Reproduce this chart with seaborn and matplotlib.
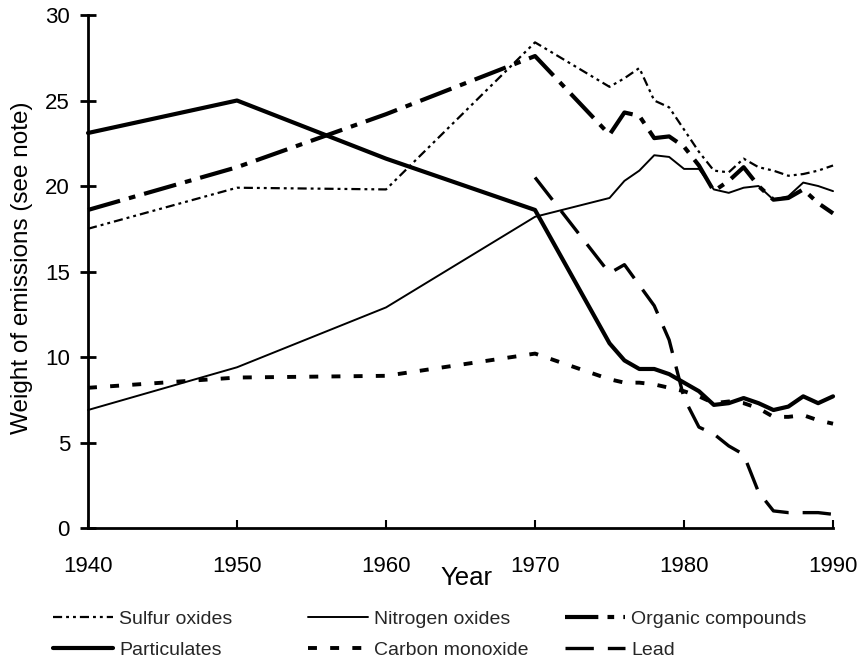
import matplotlib
matplotlib.use("Agg")
import matplotlib.pyplot as plt
import seaborn as sns

# ── Data ──────────────────────────────────────────────────────────────────────
YEARS = [1940, 1950, 1960, 1970, 1975, 1976, 1977, 1978, 1979, 1980,
         1981, 1982, 1983, 1984, 1985, 1986, 1987, 1988, 1989, 1990]
LEAD_YEARS = [1970, 1975, 1976, 1977, 1978, 1979, 1980, 1981, 1982,
              1983, 1984, 1985, 1986, 1987, 1988, 1989, 1990]

sulfur = [17.5, 19.9, 19.8, 28.4, 25.8, 26.3, 26.9, 25.0, 24.6, 23.3,
          22.0, 20.9, 20.8, 21.6, 21.1, 20.9, 20.6, 20.7, 20.9, 21.2]
particulates = [23.1, 25.0, 21.6, 18.6, 10.8, 9.8, 9.3, 9.3, 9.0, 8.5,
                8.0, 7.2, 7.3, 7.6, 7.3, 6.9, 7.1, 7.7, 7.3, 7.7]
nitrogen = [6.9, 9.4, 12.9, 18.2, 19.3, 20.3, 20.9, 21.8, 21.7, 21.0,
            21.0, 19.8, 19.6, 19.9, 20.0, 19.2, 19.4, 20.2, 20.0, 19.7]
carbon_monoxide = [8.2, 8.8, 8.9, 10.2, 8.7, 8.5, 8.5, 8.4, 8.2, 8.0,
                   7.7, 7.3, 7.4, 7.3, 7.0, 6.5, 6.5, 6.6, 6.3, 6.1]
organic = [18.6, 21.1, 24.2, 27.6, 23.0, 24.3, 24.1, 22.8, 22.9, 22.3,
           21.2, 19.7, 20.3, 21.1, 20.0, 19.2, 19.3, 19.8, 19.0, 18.4]
lead = [20.5, 14.9, 15.4, 14.2, 13.0, 11.0, 7.6, 5.9, 5.5, 4.8,
        4.3, 2.1, 1.0, 0.9, 0.9, 0.9, 0.8]

X_TICKS = [1940, 1950, 1960, 1970, 1980, 1990]
Y_TICKS = [0, 5, 10, 15, 20, 25, 30]

# ── Style ─────────────────────────────────────────────────────────────────────
sns.set_theme(style="ticks")
plt.rcParams["font.family"] = ["Liberation Sans", "DejaVu Sans"]
INK = "black"

fig = plt.figure(figsize=(8.62, 6.64), dpi=100)
ax = fig.add_axes([0.1021, 0.2048, 0.8643, 0.7726])

series = [
    ("Sulfur oxides",      YEARS, sulfur,          1.6, (0, (4.1, 1.8, 1.3, 1.8, 1.3, 1.8))),
    ("Particulates",       YEARS, particulates,    3.0, "-"),
    ("Nitrogen oxides",    YEARS, nitrogen,        1.4, "-"),
    ("Carbon monoxide",    YEARS, carbon_monoxide, 2.8, (0, (2.3, 3.4))),
    ("Organic compounds",  YEARS, organic,         3.0, (0, (8.0, 2.2, 1.6, 2.2))),
    ("Lead",               LEAD_YEARS, lead,       2.4, (0, (8.5, 4.2))),
]

handles = {}
for name, xs, ys, lw, ls in series:
    sns.lineplot(x=xs, y=ys, ax=ax, color=INK, linewidth=lw, linestyle=ls,
                 errorbar=None, sort=False, clip_on=False)
    handles[name] = ax.lines[-1]

ax.set_xlim(1940, 1990)
ax.set_ylim(0, 30)
ax.set_xticks(X_TICKS)
ax.set_yticks(Y_TICKS)
ax.set_xlabel("")
ax.set_ylabel("")
sns.despine(ax=ax)
for sp in ("left", "bottom"):
    ax.spines[sp].set_linewidth(2.0)
    ax.spines[sp].set_color(INK)
ax.tick_params(axis="y", direction="inout", length=12, width=2, pad=7,
               labelsize=16, colors=INK)
ax.tick_params(axis="x", direction="in", length=6, width=1.5, pad=20,
               labelsize=16, colors=INK)

fig.text(466 / 862, 1 - 578 / 664, "Year", ha="center", va="center",
         fontsize=18.5, color=INK)
fig.text(22 / 862, 1 - 268 / 664, "Weight of emissions (see note)",
         rotation=90, ha="center", va="center", fontsize=17.5, color=INK)

# ── Legend: three columns on a fixed grid ─────────────────────────────────────
columns = [(53, ["Sulfur oxides", "Particulates"]),
           (308, ["Nitrogen oxides", "Carbon monoxide"]),
           (565, ["Organic compounds", "Lead"])]
for x0, names in columns:
    fig.legend([handles[n] for n in names], names, loc="center left",
               bbox_to_anchor=(x0 / 862, 1 - 634.5 / 664), frameon=False,
               fontsize=14, handlelength=3.1, handletextpad=0.3,
               labelspacing=0.7, borderpad=0, borderaxespad=0)

plt.savefig("out.png", dpi=100)
plt.close()
